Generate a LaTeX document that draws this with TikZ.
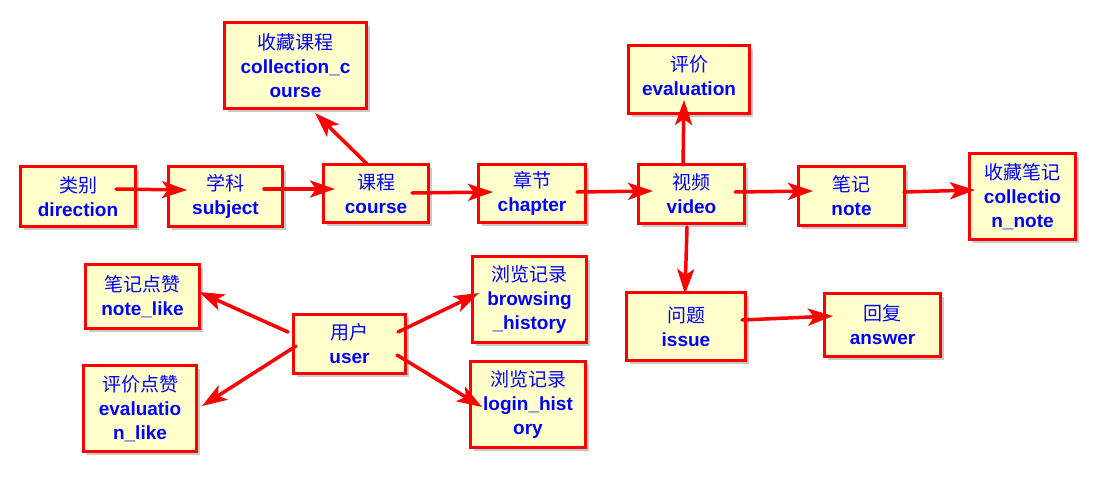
\documentclass[tikz,border=0pt]{standalone}
\usepackage{fontspec}
\setmainfont{Liberation Sans}
\newfontfamily\cjk{Noto Sans CJK SC}
\usetikzlibrary{arrows.meta,shadows,calc}
\definecolor{boxfill}{RGB}{255,255,204}
\newcommand\zhtext[1]{{\cjk\mdseries #1}}
\begin{document}
\begin{tikzpicture}[x=1pt,y=-1pt,
  box/.style={draw=red, line width=3pt, fill=boxfill, text=blue,
    font=\fontsize{19}{24}\selectfont\bfseries, align=center, inner sep=0pt,
    drop shadow={shadow xshift=3pt, shadow yshift=-3pt, opacity=0.35, fill=black!60}},
  conn/.style={draw=red, line width=3.5pt, line cap=round,
    -{Stealth[length=25pt,width=17pt,inset=6pt]}}]
\useasboundingbox[fill=white] (0,0) rectangle (1119,488);

\node[box, minimum width=115pt, minimum height=60pt] (direction) at (78,196.5) {\zhtext{类别}\\direction};
\node[box, minimum width=114pt, minimum height=60pt] (subject) at (225.5,196.5) {\zhtext{学科}\\subject};
\node[box, minimum width=105pt, minimum height=58pt] (course) at (376,193.5) {\zhtext{课程}\\course};
\node[box, minimum width=107pt, minimum height=58pt] (chapter) at (532,193.5) {\zhtext{章节}\\chapter};
\node[box, minimum width=142pt, minimum height=86pt] (ccourse) at (295.5,65.5) {\zhtext{收藏课程}\\collection\_c\\ourse};
\node[box, minimum width=106pt, minimum height=59pt] (video) at (691.5,194) {\zhtext{视频}\\video};
\node[box, minimum width=121pt, minimum height=68pt] (evaluation) at (689,79.5) {\zhtext{评价}\\evaluation\\[-16pt]};
\node[box, minimum width=106pt, minimum height=59pt] (note) at (851.5,196) {\zhtext{笔记}\\note};
\node[box, minimum width=106pt, minimum height=86pt] (cnote) at (1022.5,196.5) {\zhtext{收藏笔记}\\collectio\\n\_note};
\node[box, minimum width=119pt, minimum height=68pt] (issue) at (686,326.5) {\zhtext{问题}\\issue};
\node[box, minimum width=116pt, minimum height=63pt] (answer) at (882.5,325) {\zhtext{回复}\\answer};
\node[box, minimum width=114pt, minimum height=64pt] (notelike) at (142.5,296.5) {\zhtext{笔记点赞}\\note\_like};
\node[box, minimum width=113pt, minimum height=86pt] (evallike) at (140,408.5) {\zhtext{评价点赞}\\evaluatio\\n\_like};
\node[box, minimum width=112pt, minimum height=59pt] (user) at (349.5,344) {\zhtext{用户}\\user};
\node[box, minimum width=114pt, minimum height=86pt] (browsing) at (529.5,299.5) {\zhtext{浏览记录}\\browsing\\\_history};
\node[box, minimum width=115pt, minimum height=86pt] (login) at (528,404.5) {\zhtext{浏览记录}\\login\_hist\\ory};

\draw[conn] ($(direction.center)+(38,-7.5)$) -- ($(subject.center)+(-38.5,-6.5)$);
\draw[conn] ($(subject.center)+(38.5,-7.5)$) -- ($(course.center)+(-41,-4.5)$);
\draw[conn] ($(course.center)+(36,-0.5)$) -- ($(chapter.center)+(-39,-1.5)$);
\draw[conn] ($(chapter.center)+(45,-1.5)$) -- ($(video.center)+(-38.5,-3)$);
\draw[conn] ($(video.center)+(43.5,-2)$) -- ($(note.center)+(-38.5,-5)$);
\draw[conn] ($(note.center)+(52.5,-4)$) -- ($(cnote.center)+(-47.5,-6.5)$);
\draw[conn] ($(video.center)+(-8.5,-29)$) -- ($(evaluation.center)+(-5,20.5)$);
\draw[conn] ($(video.center)+(-4.5,33)$) -- ($(issue.center)+(-1,-32.5)$);
\draw[conn] ($(issue.center)+(56,-6.5)$) -- ($(answer.center)+(-49.5,-9)$);
\draw[conn] ($(course.center)+(-9,-29.5)$) -- ($(ccourse.center)+(19.5,47.5)$);
\draw[conn] ($(user.center)+(-61.5,-12)$) -- ($(notelike.center)+(56.5,-4.5)$);
\draw[conn] ($(user.center)+(-53.5,2)$) -- ($(evallike.center)+(62,-2.5)$);
\draw[conn] ($(user.center)+(48.5,-12)$) -- ($(browsing.center)+(-50.5,-6.5)$);
\draw[conn] ($(user.center)+(47.5,11)$) -- ($(login.center)+(-46,2.5)$);
\end{tikzpicture}
\end{document}
